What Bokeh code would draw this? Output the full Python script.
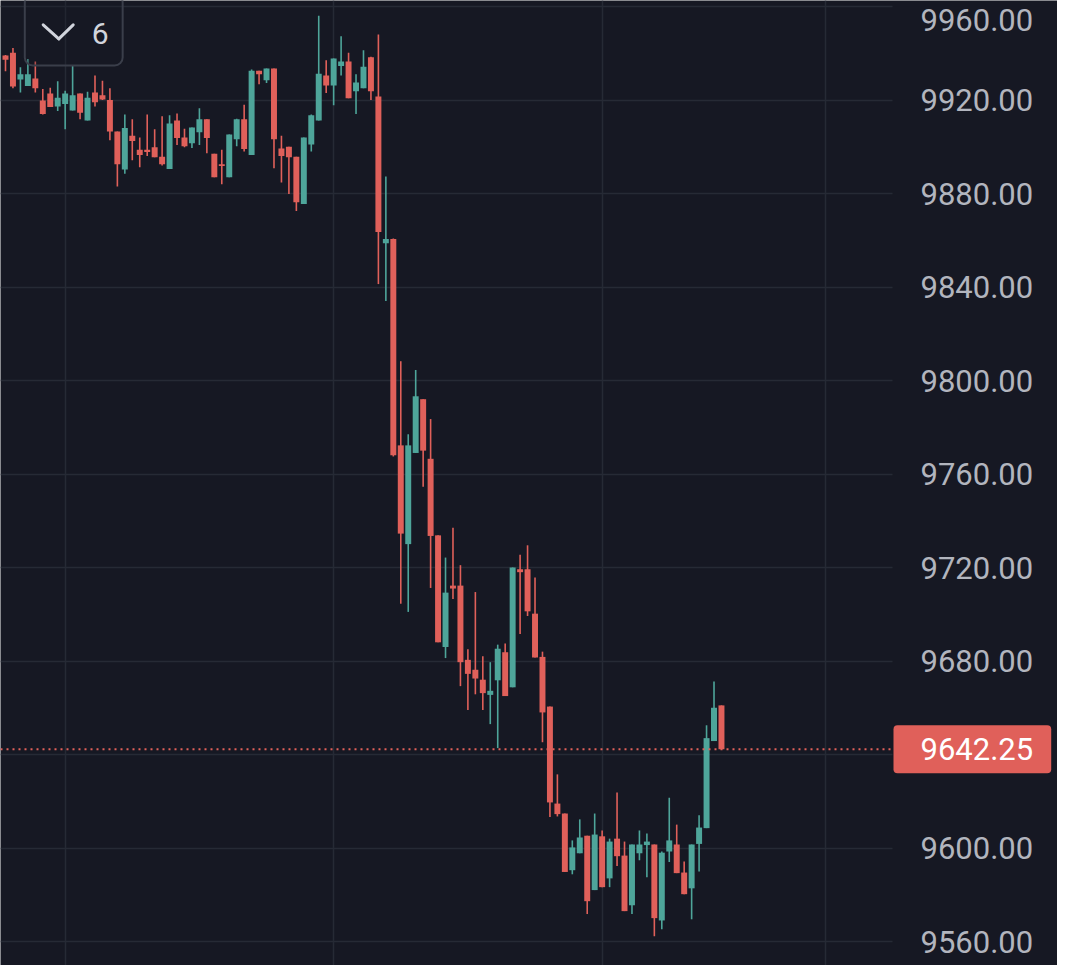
from bokeh.plotting import figure
from bokeh.models import (Range1d, FixedTicker, Grid, Label, Arrow,
                          NumeralTickFormatter, ColumnDataSource)
from bokeh.embed import file_html
from bokeh.resources import INLINE

# ---------------- data ----------------
bar_index = list(range(-1, 97))
opens = [9937, 9939, 9940.25, 9928.75, 9926, 9929.25, 9919.75, 9922.75, 9917.25, 9918.25,
         9915.5, 9922.75, 9911.25, 9923.25, 9922, 9920, 9906.5, 9890.25, 9904.75, 9898.75,
         9898.75, 9899.75, 9895.75, 9890.5, 9911.25, 9904, 9901.5, 9906.25, 9911.75, 9897,
         9892.5, 9887, 9903.25, 9911.75, 9896.5, 9932.5, 9928.5, 9933.5, 9899.25, 9900,
         9895.75, 9875.5, 9901, 9911.25, 9930.5, 9926.25, 9934.5, 9936.5, 9923.75, 9925,
         9938.25, 9921.5, 9858.75, 9860.5, 9772.25, 9730, 9769, 9792, 9766.5, 9733.75,
         9686, 9712.25, 9712.25, 9680.5, 9676.25, 9672, 9665.5, 9671.75, 9683.75, 9668.75,
         9719.25, 9719.25, 9700.25, 9681.75, 9660.5, 9619, 9614.75, 9590.5, 9597.75, 9605.25,
         9582, 9605, 9587, 9604, 9596.75, 9575.5, 9597.75, 9601.25, 9601.5, 9569,
         9598.5, 9601.5, 9589.5, 9582.75, 9601.75, 9608.5, 9645.75, 9661]
highs = [9942, 9939.25, 9942.25, 9934, 9937.5, 9936.5, 9924.75, 9925.25, 9928, 9924,
         9934.75, 9922.75, 9923.5, 9930.5, 9928.25, 9925, 9906.5, 9913.75, 9911.75, 9904,
         9913.75, 9907.5, 9913, 9913.5, 9914.25, 9907.75, 9908.25, 9916.5, 9911.75, 9897,
         9898.75, 9905.25, 9912, 9918, 9933, 9932.5, 9933.5, 9933.5, 9904.75, 9900,
         9895.75, 9904, 9913.75, 9956, 9937, 9937.75, 9947.25, 9940.25, 9931, 9941.25,
         9938.5, 9948, 9887.25, 9860.75, 9808.25, 9777, 9804.5, 9792, 9783.5, 9733.75,
         9724.25, 9737, 9721, 9685, 9709.5, 9682, 9679.5, 9687, 9687.5, 9720,
         9725.5, 9729.5, 9715.75, 9684, 9660.5, 9631.5, 9614.75, 9603.25, 9612.25, 9605.25,
         9614.75, 9607.5, 9604, 9623.75, 9602.75, 9601.5, 9607.5, 9606.25, 9601.5, 9598.5,
         9621.5, 9610, 9594.25, 9601.5, 9614, 9652.5, 9671.25, 9661]
lows = [9936, 9932.25, 9925, 9923.25, 9926, 9923.25, 9913.75, 9917, 9915.25, 9907.5,
        9915.5, 9911.75, 9911.25, 9917.25, 9920, 9902.75, 9883, 9888.5, 9894.25, 9891.25,
        9896, 9895.5, 9892, 9890.5, 9900.75, 9899.75, 9899.5, 9900.75, 9897.25, 9887,
        9884, 9887, 9900.25, 9898, 9896.5, 9926.75, 9927.25, 9890.75, 9884.75, 9879.75,
        9872.5, 9875.5, 9898, 9911.25, 9923, 9917.75, 9930.5, 9920.75, 9914, 9925,
        9920, 9841.25, 9834, 9767.5, 9704.5, 9701, 9769, 9754.5, 9711.25, 9688,
        9681.25, 9706.5, 9669.25, 9659, 9665.75, 9659, 9653, 9642.75, 9665, 9668.75,
        9691.5, 9699.25, 9681.5, 9645.25, 9613.25, 9613.5, 9589.75, 9588.75, 9597.75, 9571.75,
        9582, 9583.25, 9583.25, 9592.25, 9573, 9571.75, 9594.75, 9587.5, 9562.25, 9565.25,
        9594, 9589.25, 9580.25, 9569.5, 9590, 9608.5, 9645.75, 9642.25]
closes = [9941.5, 9937.25, 9925.75, 9931, 9931, 9925, 9914, 9917, 9921, 9922.75,
          9922, 9914.5, 9921, 9919, 9920.25, 9906.5, 9892.5, 9908, 9902.5, 9896.5,
          9897.75, 9895.5, 9892.5, 9910, 9903.75, 9900.25, 9908.25, 9911.75, 9903.75, 9887,
          9891.75, 9905.25, 9911.75, 9899, 9932.5, 9931, 9933.5, 9903.25, 9896, 9895.5,
          9876.25, 9904, 9913.5, 9931.25, 9926.25, 9937.75, 9936.5, 9920.75, 9927.5, 9934.25,
          9923.75, 9863.5, 9860.5, 9768, 9734.5, 9772.25, 9793.25, 9770, 9733.5, 9688,
          9709.25, 9711, 9679.5, 9674.5, 9672.5, 9666.25, 9667.25, 9685.25, 9665, 9720,
          9718, 9701.25, 9681.5, 9658, 9619.5, 9614.5, 9589.75, 9600.25, 9604.5, 9577.25,
          9605.75, 9583.25, 9602.75, 9596.5, 9573, 9601.5, 9601.5, 9602.75, 9570, 9598,
          9603.25, 9589.25, 9580.25, 9601.5, 9608.75, 9647, 9660, 9642.25]
last_price = 9642.25
price_ticks = [9560, 9600, 9640, 9680, 9720, 9760, 9800, 9840, 9880, 9920, 9960]
time_grid_bars = [8, 44, 80, 110]
interval_text = "6"

# ---------------- styling / geometry ----------------
BG = "#161823"
GRID = "#262a35"
UP = "#4ea59a"
DOWN = "#e0605a"
AXIS_TEXT = "#b2b5be"
FONT = "Roboto"

W, H = 1057, 965
BAR0_PX, BAR_STEP = 5.0, 7.458          # px of bar 0, px per bar
REF_PRICE, REF_PX, PX_PER_PT = 9920.0, 99.5, 93.5 / 40.0
PANE_RIGHT_PX = 892                    # where the price scale starts


def px_x(sx):
    return (sx - BAR0_PX) / BAR_STEP


def px_y(sy):
    return REF_PRICE - (sy - REF_PX) / PX_PER_PT


X0, X1 = px_x(0), px_x(W)
Y0, Y1 = px_y(H), px_y(0)
PANE_X1 = px_x(PANE_RIGHT_PX)

colors = [UP if c >= o else DOWN for o, c in zip(opens, closes)]
src = ColumnDataSource(dict(
    i=bar_index, open=opens, high=highs, low=lows, close=closes,
    top=[max(o, c) for o, c in zip(opens, closes)],
    bottom=[min(o, c) for o, c in zip(opens, closes)],
    color=colors))

p = figure(width=W, height=H, x_range=Range1d(X0, X1), y_range=Range1d(Y0, Y1),
           x_axis_location=None, y_axis_location="right",
           output_backend="svg", toolbar_location=None,
           min_border_left=0, min_border_top=0, min_border_bottom=0, min_border_right=0,
           background_fill_color=BG, border_fill_color=BG, outline_line_color=None)

for g in p.grid:
    g.visible = False
p.add_layout(Grid(dimension=0, ticker=FixedTicker(ticks=time_grid_bars),
                  grid_line_color=GRID, grid_line_width=1.5))
ygrid = Grid(dimension=1, ticker=FixedTicker(ticks=price_ticks),
             grid_line_color=GRID, grid_line_width=1.5)
try:
    ygrid.cross_bounds = (X0, PANE_X1)
    p.add_layout(ygrid)
except Exception:
    ygrid = None
    gx0 = [X0] * len(price_ticks)
    gx1 = [PANE_X1] * len(price_ticks)
    p.segment(x0=gx0, y0=price_ticks, x1=gx1, y1=price_ticks,
              line_color=GRID, line_width=1.5, level="underlay")

# price scale, pinned at the pane edge
ax = p.yaxis[0]
ax.fixed_location = PANE_X1
ax.ticker = FixedTicker(ticks=price_ticks[:-1])
ax.formatter = NumeralTickFormatter(format="0.00")
ax.major_label_overrides = {9640: ""}      # hidden under the last-price badge
ax.axis_line_color = None
ax.major_tick_line_color = None
ax.minor_tick_line_color = None
ax.major_tick_out = 0
ax.major_tick_in = 0
ax.major_label_standoff = 28
ax.major_label_text_font = FONT
ax.major_label_text_font_size = "31px"
ax.major_label_text_color = AXIS_TEXT

p.segment(x0="i", y0="low", x1="i", y1="high", color="color", line_width=1.6, source=src)
p.vbar(x="i", width=0.8, top="top", bottom="bottom", fill_color="color",
       line_color=None, source=src)

# last price line
p.segment(x0=[X0], y0=[last_price], x1=[PANE_X1], y1=[last_price],
          line_color=DOWN, line_dash="2 4", line_width=2)

# current price badge on the scale
p.add_layout(Label(x=px_x(893), y=last_price, text=f"{last_price:.2f}",
                   text_font=FONT, text_font_size="31px", text_color="#ffffff",
                   text_align="left", text_baseline="middle", level="overlay",
                   background_fill_color=DOWN, background_fill_alpha=1.0,
                   padding=dict(top=13, right=18, bottom=13, left=27),
                   border_radius=4))

# top scale label (kept fully inside the canvas)
p.add_layout(Label(x=px_x(920), y=px_y(8), text=f"{price_ticks[-1]:.2f}", text_font=FONT,
                   text_font_size="31px", text_color=AXIS_TEXT,
                   text_align="left", text_baseline="top"))

# interval button (top-left)
p.add_layout(Label(x=px_x(24.3), y=px_y(29.5), text=interval_text,
                   text_font=FONT, text_font_size="30px", text_color="#d1d4dc",
                   text_align="left", text_baseline="middle", level="overlay",
                   background_fill_color=BG, background_fill_alpha=0.25,
                   border_line_color="#3a3e4a", border_line_width=2,
                   padding=dict(top=28, right=14, bottom=22, left=67),
                   border_radius=8))
for (xa, ya, xb, yb) in [(42.7, 24.3, 58.3, 38.3), (58.3, 38.3, 72.7, 24.3)]:
    p.add_layout(Arrow(x_start=px_x(xa), y_start=px_y(ya), x_end=px_x(xb), y_end=px_y(yb),
                       end=None, line_color="#d1d4dc", line_width=3, line_cap="round",
                       level="overlay"))

open("out.html", "w").write(file_html(p, INLINE))
